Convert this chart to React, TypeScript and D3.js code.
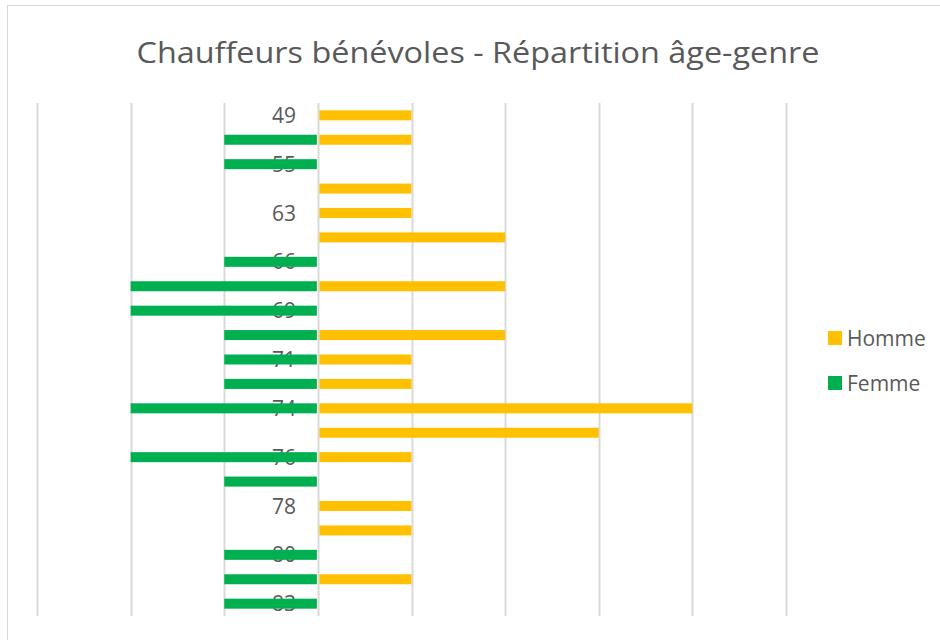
import React, { useEffect, useRef } from 'react';
import * as d3 from 'd3';

// ages (only every other one is printed on the axis)
const ages = ['49', '52', '55', '60', '63', '65', '66', '68', '69', '70', '71', '72', '74', '75', '76', '77', '78', '79', '80', '81', '83'];
const homme = [1, 1, 0, 1, 1, 2, 0, 2, 0, 2, 1, 1, 4, 3, 1, 0, 1, 1, 0, 1, 0];
const femme = [0, 1, 1, 0, 0, 0, 1, 2, 2, 1, 1, 1, 2, 0, 2, 1, 0, 0, 1, 1, 1];
const gridTicks = [-3, -2, -1, 0, 1, 2, 3, 4, 5];
const series = [
    { name: 'Homme', color: '#FFC000' },
    { name: 'Femme', color: '#00B050' },
];

const App = () => {
    const svgRef = useRef<SVGSVGElement>(null);

    useEffect(() => {
        const svg = d3.select(svgRef.current);
        svg.selectAll('*').remove();

        const width = 940;
        const height = 640;
        const font = '"Open Sans", "Noto Sans", sans-serif';

        svg.append('rect')
            .attr('x', 7.5).attr('y', 5.5)
            .attr('width', width).attr('height', height)
            .attr('fill', '#fff')
            .attr('stroke', '#d9d9d9');

        const x = d3.scaleLinear().domain([-3, 5]).range([37, 786]);
        const y = d3.scaleBand().domain(ages).range([103, 616]).paddingInner(0.59).paddingOuter(0.3);

        // gridlines
        svg.selectAll('.grid')
            .data(gridTicks)
            .enter().append('line')
            .attr('x1', d => Math.round(x(d)) + 0.5)
            .attr('x2', d => Math.round(x(d)) + 0.5)
            .attr('y1', 103)
            .attr('y2', 616)
            .attr('stroke', '#d9d9d9')
            .attr('stroke-width', 2);

        // category labels, drawn under the bars
        svg.selectAll('.lbl')
            .data(ages.filter((_, i) => i % 2 === 0))
            .enter().append('text')
            .attr('x', 296)
            .attr('y', d => (y(d) as number) + y.bandwidth() / 2)
            .attr('dy', '0.36em')
            .attr('text-anchor', 'end')
            .attr('font-family', font)
            .attr('font-size', 21)
            .attr('fill', '#595959')
            .text(d => d);

        svg.selectAll('.h')
            .data(ages.map((a, i) => ({ a, v: homme[i] })).filter(d => d.v > 0))
            .enter().append('rect')
            .attr('x', x(0) + 1.5)
            .attr('y', d => y(d.a) as number)
            .attr('width', d => x(d.v) - x(0) - 1.5)
            .attr('height', y.bandwidth())
            .attr('fill', series[0].color);

        svg.selectAll('.f')
            .data(ages.map((a, i) => ({ a, v: femme[i] })).filter(d => d.v > 0))
            .enter().append('rect')
            .attr('x', d => x(-d.v))
            .attr('y', d => y(d.a) as number)
            .attr('width', d => x(0) - x(-d.v) - 1)
            .attr('height', y.bandwidth())
            .attr('fill', series[1].color);

        svg.append('text')
            .attr('x', 478)
            .attr('y', 63)
            .attr('text-anchor', 'middle')
            .attr('font-family', font)
            .attr('font-size', 29)
            .attr('fill', '#595959')
            .attr('textLength', 683)
            .attr('lengthAdjust', 'spacingAndGlyphs')
            .text('Chauffeurs bénévoles - Répartition âge-genre');

        const legend = svg.selectAll('.leg')
            .data(series)
            .enter().append('g')
            .attr('transform', (d, i) => `translate(828,${331 + i * 45})`);
        legend.append('rect')
            .attr('width', 14).attr('height', 14)
            .attr('fill', d => d.color);
        legend.append('text')
            .attr('x', 19)
            .attr('y', 7)
            .attr('dy', '0.36em')
            .attr('font-family', font)
            .attr('font-size', 21)
            .attr('fill', '#595959')
            .text(d => d.name);
    }, []);

    return <svg ref={svgRef} width={940} height={640} style={{ position: 'absolute', left: 0, top: 0 }}></svg>;
};

export default App;
